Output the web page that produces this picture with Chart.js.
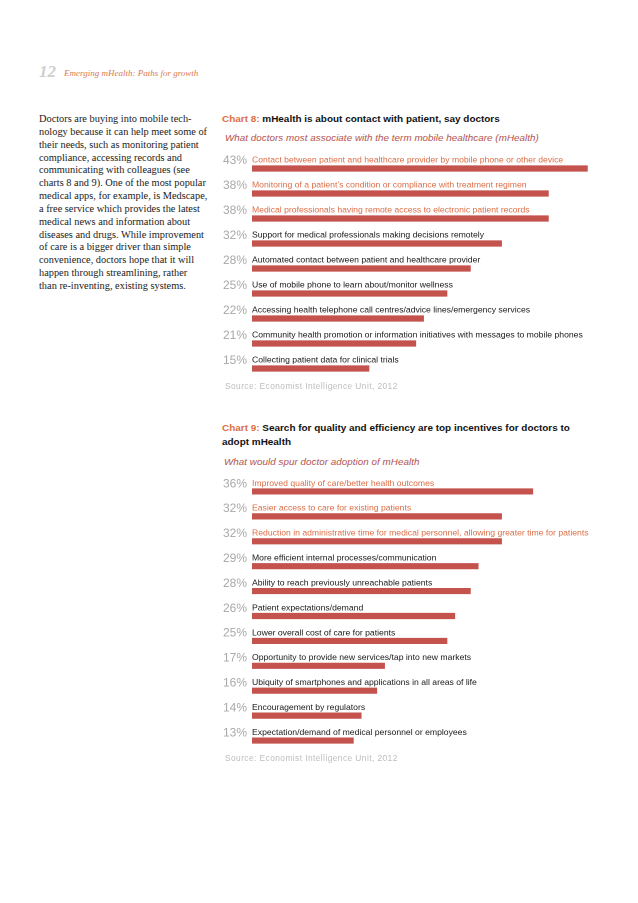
<!DOCTYPE html>
<html>
<head>
<meta charset="utf-8">
<script src="https://cdn.jsdelivr.net/npm/chart.js@4.4.1/dist/chart.umd.min.js"></script>
<style>
  html, body { margin:0; padding:0; background:#fff; }
  body { width:638px; height:903px; position:relative; overflow:hidden; }
  .abs { position:absolute; white-space:nowrap; }
  #pagenum { left:39px; top:62px; font:bold 17px "Liberation Serif", serif; color:#cfcfcf; font-style:italic; }
  #running { left:64px; top:68px; font:italic 9px "Liberation Serif", serif; color:#d97a55; }
  #para { left:39px; top:113px; font:10.35px/12.85px "Liberation Serif", serif; color:#222; }
  .ctitle { font:bold 9.95px "Liberation Sans", Arial, sans-serif; color:#111; }
  .ctitle span { color:#e0703c; }
  .csub { font:italic 9.8px "Liberation Sans", Arial, sans-serif; color:#b4524e; letter-spacing:0.05px; }
  .src { font:8.4px "Liberation Sans", Arial, sans-serif; color:#bdbdbd; letter-spacing:0.42px; }
  canvas { position:absolute; }
</style>
</head>
<body>
<div id="pagenum" class="abs">12</div>
<div id="running" class="abs">Emerging mHealth: Paths for growth</div>
<div id="para" class="abs">Doctors are buying into mobile tech-<br>nology because it can help meet some of<br>their needs, such as monitoring patient<br>compliance, accessing records and<br>communicating with colleagues (see<br>charts 8 and 9). One of the most popular<br>medical apps, for example, is Medscape,<br>a free service which provides the latest<br>medical news and information about<br>diseases and drugs. While improvement<br>of care is a bigger driver than simple<br>convenience, doctors hope that it will<br>happen through streamlining, rather<br>than re-inventing, existing systems.</div>

<div class="abs ctitle" style="left:222px;top:113px;"><span>Chart 8:</span> mHealth is about contact with patient, say doctors</div>
<div class="abs csub" style="left:225px;top:132px;">What doctors most associate with the term mobile healthcare (mHealth)</div>
<canvas id="c8" width="389" height="233" style="left:214px;top:150px;"></canvas>
<div class="abs src" style="left:225px;top:381px;">Source: Economist Intelligence Unit, 2012</div>

<div class="abs ctitle" style="left:222px;top:421px;line-height:14px;"><span>Chart 9:</span> Search for quality and efficiency are top incentives for doctors to<br>adopt mHealth</div>
<div class="abs csub" style="left:224px;top:456px;">What would spur doctor adoption of mHealth</div>
<canvas id="c9" width="389" height="282" style="left:214px;top:472.5px;"></canvas>
<div class="abs src" style="left:225px;top:753px;">Source: Economist Intelligence Unit, 2012</div>

<script>
// ---- Data ----
const chart8Categories = [
  "Contact between patient and healthcare provider by mobile phone or other device",
  "Monitoring of a patient\u2019s condition or compliance with treatment regimen",
  "Medical professionals having remote access to electronic patient records",
  "Support for medical professionals making decisions remotely",
  "Automated contact between patient and healthcare provider",
  "Use of mobile phone to learn about/monitor wellness",
  "Accessing health telephone call centres/advice lines/emergency services",
  "Community health promotion or information initiatives with messages to mobile phones",
  "Collecting patient data for clinical trials"
];
const chart8Values = [43, 38, 38, 32, 28, 25, 22, 21, 15];

const chart9Categories = [
  "Improved quality of care/better health outcomes",
  "Easier access to care for existing patients",
  "Reduction in administrative time for medical personnel, allowing greater time for patients",
  "More efficient internal processes/communication",
  "Ability to reach previously unreachable patients",
  "Patient expectations/demand",
  "Lower overall cost of care for patients",
  "Opportunity to provide new services/tap into new markets",
  "Ubiquity of smartphones and applications in all areas of life",
  "Encouragement by regulators",
  "Expectation/demand of medical personnel or employees"
];
const chart9Values = [36, 32, 32, 29, 28, 26, 25, 17, 16, 14, 13];

// ---- Styling ----
const BAR_COLOR = '#c4534d';
const HIGHLIGHT_COLOR = '#dc6d45';
const TEXT_COLOR = '#1a1a1a';
const PCT_COLOR = '#a8a8a8';

const labelPlugin = {
  id: 'rowLabels',
  afterDatasetsDraw(chart, args, opts) {
    const ctx = chart.ctx;
    const meta = chart.getDatasetMeta(0);
    const left = chart.chartArea.left;
    const labels = chart.data.labels;
    const vals = chart.data.datasets[0].data;
    ctx.save();
    ctx.textBaseline = 'middle';
    meta.data.forEach((el, i) => {
      const y = el.y - opts.offset;
      ctx.font = '12px "Liberation Sans", Arial, sans-serif';
      ctx.fillStyle = PCT_COLOR;
      ctx.textAlign = 'right';
      ctx.fillText(vals[i] + '%', left - 5, y + 0.5);
      ctx.font = '8.65px "Liberation Sans", Arial, sans-serif';
      ctx.fillStyle = i < opts.highlight ? HIGHLIGHT_COLOR : TEXT_COLOR;
      ctx.textAlign = 'left';
      ctx.fillText(labels[i], left, y);
    });
    ctx.restore();
  }
};

function makeChart(id, cats, vals, offset, padTop, padBottom) {
  return new Chart(document.getElementById(id), {
    type: 'bar',
    data: {
      labels: cats,
      datasets: [{ data: vals, backgroundColor: BAR_COLOR, barThickness: 5.5, borderWidth: 0 }]
    },
    options: {
      indexAxis: 'y',
      responsive: false,
      animation: false,
      devicePixelRatio: 2,
      layout: { padding: { left: 38, right: 0, top: padTop, bottom: padBottom } },
      scales: {
        x: { display: false, min: 0, max: 45 },
        y: { display: false }
      },
      plugins: {
        legend: { display: false },
        tooltip: { enabled: false },
        rowLabels: { offset: offset, highlight: 3 }
      }
    },
    plugins: [labelPlugin]
  });
}

makeChart('c8', chart8Categories, chart8Values, 8.3, 6, 2);
makeChart('c9', chart9Categories, chart9Values, 8, 6, 2);
</script>
</body>
</html>
